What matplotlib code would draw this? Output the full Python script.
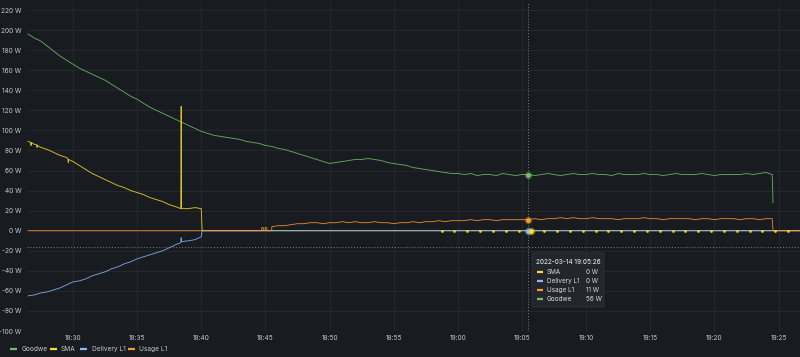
import matplotlib
matplotlib.use('Agg')
import matplotlib.pyplot as plt
import matplotlib.dates as mdates
import pandas as pd
from matplotlib.lines import Line2D
from matplotlib.patches import FancyBboxPatch
from matplotlib.ticker import FuncFormatter

plt.rcParams['font.family'] = ['Inter', 'DejaVu Sans']

# time base: seconds after 18:26:30
T0 = pd.Timestamp('2022-03-14 18:26:30')
X_START = pd.Timestamp('2022-03-14 18:26:25')
X_END = pd.Timestamp('2022-03-14 19:26:40')

# Goodwe, one sample every 30 s, then the final drop
goodwe_w = [196, 192, 189, 184, 179, 174, 170, 166, 162, 159, 156, 153, 150, 146,
            142, 138, 134, 131, 127, 123, 120, 117, 114, 111, 108, 105, 102, 99,
            97, 95, 94, 93, 92, 91, 89, 88, 87, 85, 84, 82, 81, 79, 77, 75,
            73, 71, 69, 67, 68, 69, 70, 71, 71, 72, 71, 70, 68, 67, 66, 65,
            63, 62, 61, 60, 59, 58, 57, 57, 56, 57, 55, 56, 56, 55, 57, 56,
            55, 56, 56, 55, 56, 57, 56, 55, 56, 57, 56, 56, 57, 56, 56, 55,
            57, 56, 56, 56, 57, 56, 56, 55, 56, 57, 56, 56, 56, 57, 56, 55,
            56, 56, 56, 56, 57, 56, 57, 58, 56]
goodwe_drop_sec = [3484]
goodwe_drop_w = [28]

# SMA
sma_sec = [0, 12, 14, 16, 30, 40, 42, 44, 60, 90, 120, 150, 180, 186, 188, 190,
           210, 240, 270, 300, 330, 360, 390, 420, 450, 480, 510, 540, 570, 600,
           630, 660, 690, 714, 716, 718, 750, 780, 810, 814, 3615]
sma_w = [89, 88, 85, 88, 86, 86, 83, 85, 83, 81, 78, 75, 73, 72, 68, 71,
         69, 65, 61, 57, 54, 51, 48, 45, 43, 40, 38, 36, 33, 31,
         29, 26, 24, 22, 124, 22, 22, 23, 22, 0, 0]
# SMA sparse zero readings (one per minute from 18:58:44)
sma_dot_sec = [1934 + 60 * k for k in range(28)]
sma_dot_w = [0] * 28

# Delivery L1
delivery_sec = [0, 30, 60, 90, 120, 150, 180, 210, 240, 270, 300, 330, 360, 390,
                420, 450, 480, 510, 540, 570, 600, 630, 660, 690, 714, 716, 718,
                750, 780, 810, 814, 3615]
delivery_w = [-65, -64, -62, -61, -59, -57, -54, -51, -50, -48, -45, -43, -41, -38,
              -36, -33, -31, -28, -26, -24, -22, -20, -17, -14, -12, -7, -11,
              -10, -9, -6, 0, 0]

# Usage L1: zero, a few small blips, then a reading every 30 s from 18:45:30
usage_pre_sec = [0, 1092, 1093, 1100, 1101, 1108, 1109, 1116, 1117, 1139]
usage_pre_w = [0, 0, 3, 3, 0, 0, 3, 3, 0, 0]
usage_w = [4, 5, 5, 6, 7, 7, 8, 8, 7, 8, 8, 9, 8, 9, 8, 8, 9, 8, 8, 7,
           8, 8, 9, 8, 9, 9, 10, 9, 10, 10, 10, 11, 10, 11, 11, 10, 11, 11, 11, 11,
           11, 12, 11, 12, 12, 13, 12, 13, 12, 12, 13, 12, 12, 12, 11, 12, 12, 12, 13, 12,
           12, 11, 12, 12, 12, 12, 11, 12, 12, 11, 12, 12, 12, 11, 12, 12, 11, 12, 12]
usage_post_sec = [3484, 3615]
usage_post_w = [0, 0]

hover_time = pd.Timestamp('2022-03-14 19:05:26')
hover_sma_time = pd.Timestamp('2022-03-14 19:05:44')
hover_y = -16
tip_title = '2022-03-14 19:05:26'
tip_names = ['SMA', 'Delivery L1', 'Usage L1', 'Goodwe']
tip_values = ['0 W', '0 W', '11 W', '56 W']

legend_names = ['Goodwe', 'SMA', 'Delivery L1', 'Usage L1']

BG = '#181b1f'
GRID = '#272a2f'
TXT = '#c8c9d0'
GREEN = '#73bf69'
YELLOW = '#fade2a'
BLUE = '#8ab8ff'
ORANGE = '#ff9830'
LW = 0.65
LA = 0.85


def sec_to_time(secs):
    return [T0 + pd.Timedelta(seconds=s) for s in secs]


goodwe_t = sec_to_time([30 * i for i in range(len(goodwe_w))] + goodwe_drop_sec)
usage_t = sec_to_time(usage_pre_sec + [1140 + 30 * i for i in range(len(usage_w))] + usage_post_sec)

fig = plt.figure(figsize=(8, 3.57), dpi=100)
fig.patch.set_facecolor(BG)
ax = fig.add_axes([27 / 800, 26 / 357, 773 / 800, 329 / 357])
ax.set_facecolor(BG)

ax.plot(goodwe_t, goodwe_w + goodwe_drop_w, color=GREEN, lw=LW, alpha=LA)
ax.plot(sec_to_time(sma_sec), sma_w, color=YELLOW, lw=LW, alpha=LA)
ax.plot(sec_to_time(delivery_sec), delivery_w, color=BLUE, lw=LW, alpha=LA)
ax.plot(usage_t, usage_pre_w + usage_w + usage_post_w, color=ORANGE, lw=LW, alpha=LA)
ax.plot(sec_to_time(sma_dot_sec), sma_dot_w, 'o', color=YELLOW, ms=2.0, mew=0,
        alpha=0.9, zorder=5)

# crosshair
ax.axvline(hover_time, color='#7d7f87', lw=0.7, ls=(0, (1, 2)), zorder=6)
ax.axhline(hover_y, color='#7d7f87', lw=0.7, ls=(0, (1, 2)), zorder=6)
for c, t, v in [(GREEN, hover_time, 56), (ORANGE, hover_time, 11),
                (BLUE, hover_time, 0), (YELLOW, hover_sma_time, 0)]:
    ax.plot([t], [v], 'o', color=c, ms=5.5, alpha=0.35, mew=0, zorder=7)
    ax.plot([t], [v], 'o', color=c, ms=3.5, mew=0, zorder=8)

ax.set_xlim(X_START, X_END)
ax.set_ylim(-100, 228)
ax.set_yticks(range(-100, 221, 20))
ax.yaxis.set_major_formatter(FuncFormatter(lambda v, p: f'{v:.0f} W'))
ax.xaxis.set_major_locator(mdates.MinuteLocator(byminute=range(0, 60, 5)))
ax.xaxis.set_major_formatter(mdates.DateFormatter('%H:%M'))
ax.tick_params(length=0, colors=TXT, labelsize=4.7)
ax.tick_params(axis='y', pad=4)
ax.tick_params(axis='x', pad=3)
for s in ax.spines.values():
    s.set_visible(False)
ax.grid(color=GRID, lw=0.6)
ax.set_axisbelow(True)

# tooltip
W, H = 800, 357
box = FancyBboxPatch((532 / W, 1 - 307 / H), 72 / W, 54 / H,
                     boxstyle='round,pad=0,rounding_size=0.003',
                     transform=fig.transFigure, facecolor='#23262c',
                     edgecolor='#2f3238', lw=0.6, zorder=10)
fig.add_artist(box)
fig.text(536 / W, 1 - 262 / H, tip_title, color='#d8d9de', fontsize=4.6,
         va='center', ha='left', zorder=11, fontweight='medium')
tip_colors = [YELLOW, BLUE, ORANGE, GREEN]
for i, (name, val, c) in enumerate(zip(tip_names, tip_values, tip_colors)):
    y = 1 - (271.5 + 9.3 * i) / H
    fig.add_artist(Line2D([537 / W, 543 / W], [y, y], transform=fig.transFigure,
                          color=c, lw=1.6, solid_capstyle='butt', zorder=11))
    fig.text(547 / W, y, name, color='#d8d9de', fontsize=4.6, va='center', zorder=11)
    fig.text(586 / W, y, val, color='#d8d9de', fontsize=4.6, va='center', zorder=11)

# legend
legend_colors = [GREEN, YELLOW, BLUE, ORANGE]
dash_x = [10, 50, 80, 128]
text_x = [22, 61, 92, 139]
ly = 1 - 349 / H
for name, c, dx, tx in zip(legend_names, legend_colors, dash_x, text_x):
    fig.add_artist(Line2D([dx / W, (dx + 7) / W], [ly, ly], transform=fig.transFigure,
                          color=c, lw=1.6, solid_capstyle='butt'))
    fig.text(tx / W, ly, name, color=TXT, fontsize=4.7, va='center')

fig.savefig('out.png', dpi=100, facecolor=BG)
